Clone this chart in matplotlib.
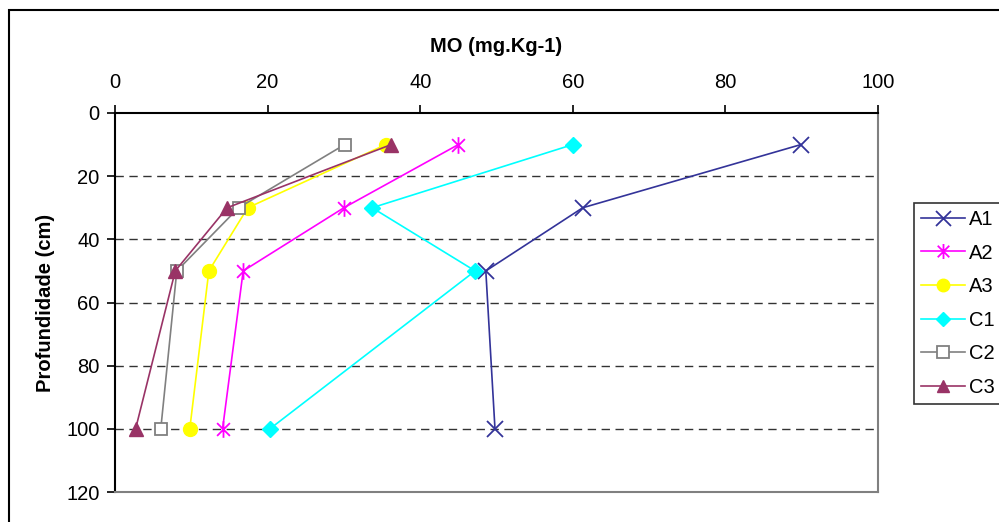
import matplotlib.pyplot as plt
from matplotlib.path import Path
from matplotlib.patches import Rectangle
import numpy as np

plt.rcParams["font.family"] = ["Liberation Sans", "DejaVu Sans"]

# depth (cm) and organic matter values per sample
depth = [10, 30, 50, 100]
a1 = [89.9, 61.3, 48.6, 49.8]
a2 = [45.0, 30.0, 16.8, 14.1]
a3 = [35.5, 17.4, 12.3, 9.8]
c1 = [60.0, 33.7, 47.2, 20.3]
c2 = [30.1, 16.2, 8.1, 6.0]
c3 = [36.2, 14.7, 7.9, 2.7]

x_ticks = [0, 20, 40, 60, 80, 100]
y_ticks = [0, 20, 40, 60, 80, 100, 120]

# Excel-like star: x with a vertical bar
star = Path(
    [(-1, -1), (1, 1), (-1, 1), (1, -1), (0, -1.3), (0, 1.3)],
    [Path.MOVETO, Path.LINETO, Path.MOVETO, Path.LINETO, Path.MOVETO, Path.LINETO],
)

series = [
    ("A1", a1, "#333399", "x", 12, "#333399"),
    ("A2", a2, "#FF00FF", star, 12, "#FF00FF"),
    ("A3", a3, "#FFFF00", "o", 10, "#FFFF00"),
    ("C1", c1, "#00FFFF", "D", 8, "#00FFFF"),
    ("C2", c2, "#808080", "s", 9, "white"),
    ("C3", c3, "#993366", "^", 10, "#993366"),
]

fig = plt.figure(figsize=(9.99, 5.22), dpi=100)
ax = fig.add_axes([115 / 999, 1 - 492 / 522, 763 / 999, 379 / 522])

for y in [20, 40, 60, 80, 100]:
    ax.axhline(y, color="#333333", linewidth=1, linestyle=(0, (6, 4)), zorder=1)

for name, vals, col, mk, ms, fc in series:
    ax.plot(
        vals,
        depth,
        color=col,
        marker=mk,
        markersize=ms,
        markerfacecolor=fc,
        markeredgecolor=col,
        markeredgewidth=1.3 if mk in ("x", "s") or mk is star else 1,
        linewidth=1.2,
        label=name,
        zorder=3,
        clip_on=False,
    )

ax.set_xlim(0, 100)
ax.set_ylim(120, 0)
ax.set_xticks(x_ticks)
ax.set_yticks(y_ticks)
ax.xaxis.tick_top()
ax.xaxis.set_label_position("top")
ax.tick_params(axis="both", direction="out", length=6, width=1.2, labelsize=14.5, colors="black")
ax.tick_params(axis="x", pad=9)
ax.tick_params(axis="y", pad=5)

ax.spines["left"].set_color("black")
ax.spines["top"].set_color("black")
ax.spines["left"].set_linewidth(1.5)
ax.spines["top"].set_linewidth(1.5)
ax.spines["right"].set_color("#808080")
ax.spines["bottom"].set_color("#808080")
ax.spines["right"].set_linewidth(1.5)
ax.spines["bottom"].set_linewidth(1.5)

ax.set_xlabel("MO (mg.Kg-1)", fontsize=14.5, fontweight="bold", labelpad=15)
ax.set_ylabel("Profundidade (cm)", fontsize=14.5, fontweight="bold", labelpad=8)

leg = fig.legend(
    loc="upper left",
    bbox_to_anchor=(914 / 999, 1 - 203 / 522),
    fontsize=14.5,
    frameon=True,
    fancybox=False,
    edgecolor="black",
    handlelength=2.2,
    handletextpad=0.2,
    labelspacing=0.72,
    borderpad=0.35,
    borderaxespad=0,
    markerscale=0.9,
)
leg.get_frame().set_linewidth(1.2)

# outer chart border
fig.patches.append(
    Rectangle((9 / 999, -0.1), 1.2, 1.1 - 10 / 522, transform=fig.transFigure,
              fill=False, edgecolor="black", linewidth=1.5)
)

fig.savefig("out.png", dpi=100)
